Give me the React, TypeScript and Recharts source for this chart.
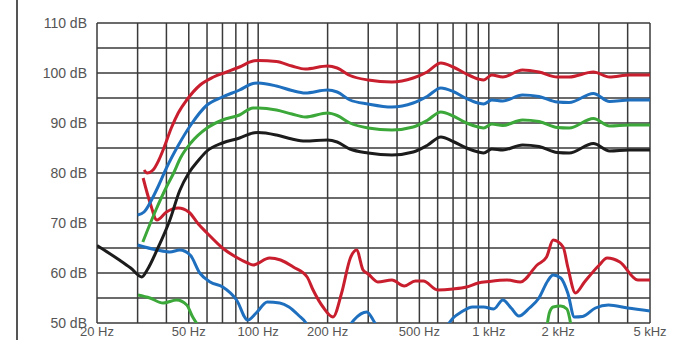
import { CartesianGrid, Line, LineChart, XAxis, YAxis } from "recharts";

// frequency in Hz, level in dB
const redFundFreqs = [32, 33, 35, 37, 39, 42, 45, 49, 56, 64, 73, 83, 95, 100, 120, 140, 160, 200, 220, 250, 300, 380, 470, 540, 620, 700, 800, 900, 950, 1030, 1150, 1400, 1650, 1980, 2230, 2840, 3340, 4070, 5000];
const redFundDb = [80.6, 80, 80.6, 82.5, 85, 89, 92, 94.6, 97.6, 99.2, 100.2, 101.2, 102.4, 102.5, 102.3, 101.4, 100.8, 101.4, 101, 99.5, 98.6, 98.2, 99, 100.2, 102, 101.2, 99.8, 98.8, 98.6, 99.6, 99.2, 100.6, 100.2, 99.2, 99.2, 100.2, 99.2, 99.6, 99.6];

const blueFundFreqs = [30, 32, 35, 37, 40, 45, 51, 60, 70, 83, 95, 100, 120, 140, 160, 200, 220, 250, 300, 380, 470, 540, 620, 700, 800, 900, 950, 1030, 1150, 1400, 1650, 1980, 2230, 2840, 3340, 4070, 5000];
const blueFundDb = [71.6, 72.2, 75.2, 77.5, 81, 85.5, 89.6, 93.6, 95.2, 96.6, 97.9, 98, 97.4, 96.5, 96, 96.6, 96.2, 94.6, 93.8, 93.2, 94, 95.3, 97, 96.3, 94.9, 94, 93.8, 94.6, 94.4, 95.6, 95.3, 94.2, 94.1, 95.9, 94.3, 94.6, 94.6];

const greenFundFreqs = [31.6, 36, 40, 43, 46, 51, 60, 70, 83, 95, 100, 120, 140, 160, 200, 220, 250, 300, 380, 470, 540, 620, 700, 800, 900, 950, 1030, 1150, 1400, 1650, 1980, 2230, 2840, 3340, 4070, 5000];
const greenFundDb = [66.2, 72.6, 77.2, 80, 83, 86, 89, 90.6, 91.6, 93, 93, 92.6, 91.8, 91.2, 92, 91.5, 90, 89, 88.6, 89.2, 90.5, 92.2, 91.4, 90, 89.2, 89, 89.8, 89.5, 90.6, 90.3, 89.1, 89, 90.9, 89.4, 89.6, 89.6];

const blackFundFreqs = [20, 22.5, 25, 28, 31.3, 33, 36.4, 41.4, 45.7, 50, 55, 60, 70, 83, 95, 100, 120, 140, 160, 200, 220, 250, 300, 380, 470, 540, 620, 700, 800, 900, 950, 1030, 1150, 1400, 1650, 1980, 2230, 2840, 3340, 4070, 5000];
const blackFundDb = [65.5, 64, 62.6, 61, 59.2, 60.6, 64.6, 70.6, 76.5, 80, 82.5, 84.4, 86, 87, 88, 88.1, 87.6, 86.8, 86.4, 86.6, 86.2, 84.8, 84, 83.6, 84.2, 85.5, 87.2, 86.3, 85, 84.2, 84, 84.8, 84.6, 85.6, 85.3, 84.1, 84, 85.9, 84.4, 84.6, 84.6];

const redDistFreqs = [31.7, 34, 36.4, 40, 45, 50, 55, 60, 70, 80, 90, 95, 112, 125, 142, 163, 173, 191, 211, 230, 251, 267, 285, 300, 330, 380, 430, 480, 520, 600, 700, 800, 900, 1000, 1200, 1370, 1620, 1780, 1900, 2100, 2200, 2375, 2600, 3000, 3260, 3700, 4430, 5000];
const redDistDb = [79, 74, 70.6, 72.2, 73, 72.2, 69.8, 68, 65, 63.2, 62, 61.6, 63, 62.6, 61.2, 59.2, 56.6, 53.2, 51.2, 56, 63, 64.6, 60.6, 59.8, 58.2, 58.6, 57.4, 58.4, 58.4, 56.6, 56.8, 57.2, 58, 58.3, 58.6, 58.2, 61.6, 63.2, 66.6, 65.2, 61.2, 56, 58.2, 61.5, 63, 62.2, 58.6, 58.6];

// null = curve drops below the 50 dB floor
const blueDistFreqs = [30, 36.4, 41.4, 45.7, 50.7, 55.8, 61.9, 70.2, 80.6, 90, 98, 109.5, 124, 136, 150, 160, 168, 200, 245, 260, 296, 315, 330, 500, 650, 700, 760, 850, 950, 1050, 1150, 1250, 1350, 1500, 1650, 1800, 1900, 2050, 2200, 2350, 2550, 2900, 3300, 4000, 5000];
const blueDistDb = [65.6, 64.6, 64.2, 64.6, 63.6, 60, 58.2, 57.2, 54.6, 50.6, 52, 54.2, 54, 53.2, 51.5, 50.2, 48.5, null, 49, 50.6, 52.2, 50.6, 49, null, 49, 51, 52.2, 53.2, 53.2, 52.8, 54.6, 53, 51.4, 53, 55, 58.4, 59.6, 59, 56, 51.2, 51.3, 53, 53.6, 53, 52.4];

const greenDistFreqs = [30.1, 33.9, 38.7, 44.3, 49, 52, 54, 57, 1000, 1790, 1830, 1900, 2050, 2180, 2240, 2270];
const greenDistDb = [55.6, 55, 54, 54.6, 53.6, 51.2, 50, 48.5, null, 49.5, 52, 53.2, 53.4, 52.8, 51, 49.5];

const freqTicks = [20, 30, 40, 50, 60, 70, 80, 90, 100, 200, 300, 400, 500, 600, 700, 800, 900, 1000, 2000, 3000, 4000, 5000];
const freqLabels: Record<number, string> = {
  20: "20 Hz",
  50: "50 Hz",
  100: "100 Hz",
  200: "200 Hz",
  500: "500 Hz",
  1000: "1 kHz",
  2000: "2 kHz",
  5000: "5 kHz",
};
const dbTicks = [50, 55, 60, 65, 70, 75, 80, 85, 90, 95, 100, 105, 110];

const RED = "#c81e2d";
const BLUE = "#1f6fbf";
const GREEN = "#3ca83a";
const BLACK = "#1c1c1c";

const toPoints = (freqs: number[], dbs: (number | null)[]) =>
  freqs.map((f, i) => ({ f, db: dbs[i] }));

const series = [
  { key: "greenDist", color: GREEN, data: toPoints(greenDistFreqs, greenDistDb) },
  { key: "blueDist", color: BLUE, data: toPoints(blueDistFreqs, blueDistDb) },
  { key: "redDist", color: RED, data: toPoints(redDistFreqs, redDistDb) },
  { key: "blackFund", color: BLACK, data: toPoints(blackFundFreqs, blackFundDb) },
  { key: "greenFund", color: GREEN, data: toPoints(greenFundFreqs, greenFundDb) },
  { key: "blueFund", color: BLUE, data: toPoints(blueFundFreqs, blueFundDb) },
  { key: "redFund", color: RED, data: toPoints(redFundFreqs, redFundDb) },
];

const tickStyle = {
  fill: "#555",
  fontSize: 14,
  fontFamily: "'Liberation Sans', Arial, sans-serif",
};

export default function App() {
  return (
    <div
      style={{
        position: "absolute",
        left: 0,
        top: 0,
        width: 690,
        height: 340,
        overflow: "hidden",
        background: "#fff",
      }}
    >
      <div style={{ position: "absolute", left: 16, top: 0, width: 2, height: 340, background: "#555" }} />
      <LineChart width={690} height={340} margin={{ top: 23, right: 40, bottom: 0, left: 0 }}>
        <CartesianGrid stroke="#3a3a3a" strokeWidth={1.5} />
        <XAxis
          dataKey="f"
          type="number"
          scale="log"
          domain={[20, 5000]}
          ticks={freqTicks}
          interval={0}
          allowDataOverflow
          height={17}
          axisLine={false}
          tickLine={false}
          tickSize={3}
          tickMargin={1}
          tick={{ ...tickStyle, fontSize: 13 }}
          tickFormatter={(v: number) => freqLabels[v] ?? ""}
        />
        <YAxis
          type="number"
          domain={[50, 110]}
          ticks={dbTicks}
          interval={0}
          allowDataOverflow
          width={97}
          axisLine={false}
          tickLine={false}
          tickSize={8}
          tick={tickStyle}
          tickFormatter={(v: number) => (v % 10 === 0 ? `${v} dB` : "")}
        />
        {series.map((s) => (
          <Line
            key={s.key}
            data={s.data}
            dataKey="db"
            type="monotone"
            stroke={s.color}
            strokeWidth={3}
            dot={false}
            activeDot={false}
            isAnimationActive={false}
          />
        ))}
      </LineChart>
    </div>
  );
}
